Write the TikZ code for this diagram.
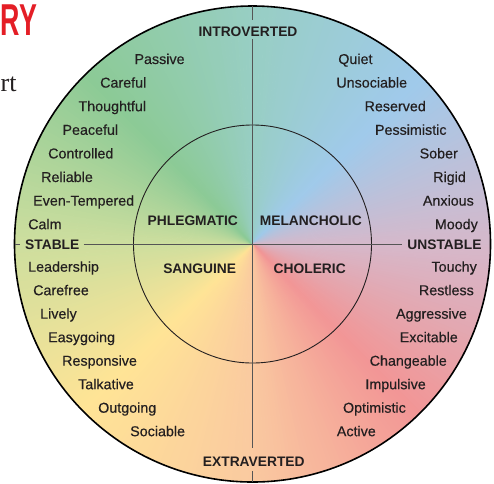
\documentclass[tikz,border=0pt]{standalone}
\usepackage{fontspec}
\setmainfont{Liberation Sans}
\newfontfamily\medsans[FakeBold=0.35]{Liberation Sans}
\newfontfamily\serifrm{Liberation Serif}
\definecolor{c0}{RGB}{214,184,202}
\definecolor{c1}{RGB}{242,150,150}
\definecolor{c2}{RGB}{250,202,160}
\definecolor{c3}{RGB}{255,228,150}
\definecolor{c4}{RGB}{205,222,158}
\definecolor{c5}{RGB}{140,202,150}
\definecolor{c6}{RGB}{152,206,196}
\definecolor{c7}{RGB}{160,202,235}
\definecolor{c8}{RGB}{214,184,202}
\definecolor{txt}{RGB}{35,31,32}
\definecolor{axisc}{RGB}{85,85,85}
\definecolor{redtitle}{RGB}{228,30,38}
\begin{document}
\begin{tikzpicture}[x=1pt,y=-1pt,
  lab/.style={font=\medsans\fontsize{14.3}{16}\selectfont, text=txt, inner sep=0pt},
  hd/.style={font=\bfseries\fontsize{13.8}{16}\selectfont, text=txt, inner sep=0pt},
  axisline/.style={draw=axisc, line width=0.9pt}]
\useasboundingbox (0,0) rectangle (494,483);
\coordinate (O) at (252.5,244);
% conic gradient
\begin{scope}
  \clip (O) circle[radius=238];
  \foreach \a in {0,...,359}{
    \pgfmathtruncatemacro\s{\a/45}
    \pgfmathtruncatemacro\sn{\s+1}
    \pgfmathtruncatemacro\p{(\a-45*\s)*100/45}
    \filldraw[shift={(O)}, color=c\sn!\p!c\s, line width=0.6pt]
      (0,0) -- (\a:260) -- (\a+1.1:260) -- cycle;
  }
\end{scope}
% circles
\draw[line width=0.9pt, txt] (O) circle[radius=119];
\draw[line width=1.6pt, black] (O) circle[radius=238];
% top-left fragments
\node[anchor=base west, inner sep=0pt, text=redtitle, font=\bfseries\fontsize{44.7}{46}\selectfont] (ry) at (0.5,35) {\scalebox{0.6}[1]{RY}};
\node[anchor=base west, inner sep=0pt, text=txt, font=\serifrm\fontsize{26}{28}\selectfont] (rt) at (0.5,91.7) {rt};
% axis labels
\node[hd, anchor=base] (intro) at (248,36) {INTROVERTED};
\node[hd, anchor=base] (extra) at (253.8,466.7) {EXTRAVERTED};
\node[hd, anchor=base west] (stable) at (25,249) {STABLE};
\node[hd, anchor=base east] (unstable) at (481.7,249) {UNSTABLE};
% axes
\coordinate (T) at (252.7,6);
\coordinate (B) at (252.7,482);
\coordinate (L) at (14.5,244);
\draw[axisline, shorten >=6pt] (T) -- (intro.north -| T);
\draw[axisline, shorten <=3pt, shorten >=9pt] (intro.south -| T) -- (extra.north -| T);
\draw[axisline, shorten <=4pt] (extra.south -| T) -- (B);
\draw[axisline, shorten >=5pt] (L) -- (stable.west |- L);
\draw[axisline, shorten <=4pt, shorten >=5pt] (stable.east |- L) -- (unstable.west |- L);
% temperaments
\node[hd, anchor=base] (phleg) at (192.8,225) {PHLEGMATIC};
\node[hd, anchor=base] (melan) at (310.8,225) {MELANCHOLIC};
\node[hd, anchor=base] (sang) at (199.7,273.3) {SANGUINE};
\node[hd, anchor=base] (chol) at (309.7,273.3) {CHOLERIC};
% traits
\foreach \t/\x [count=\i] in {Passive/134.3, Careful/100, Thoughtful/78.3, Peaceful/62.3, Controlled/48, Reliable/41, Even-Tempered/33, Calm/28}
  \node[lab, anchor=base west] (lu\i) at (\x,{64+23.6*(\i-1)}) {\t};
\foreach \t/\x [count=\i] in {Leadership/28, Carefree/33, Lively/40, Easygoing/48, Responsive/62, Talkative/78, Outgoing/98, Sociable/130}
  \node[lab, anchor=base west] (ll\i) at (\x,{271.7+23.5*(\i-1)}) {\t};
\foreach \t/\x [count=\i] in {Quiet/372.7, Unsociable/407.3, Reserved/426, Pessimistic/446.7, Sober/458, Rigid/466, Anxious/474, Moody/478}
  \node[lab, anchor=base east] (ru\i) at (\x,{64+23.6*(\i-1)}) {\t};
\foreach \t/\x [count=\i] in {Touchy/477, Restless/474, Aggressive/467, Excitable/458, Changeable/447, Impulsive/426, Optimistic/406, Active/376}
  \node[lab, anchor=base east] (rl\i) at (\x,{271.7+23.5*(\i-1)}) {\t};
\end{tikzpicture}
\end{document}
